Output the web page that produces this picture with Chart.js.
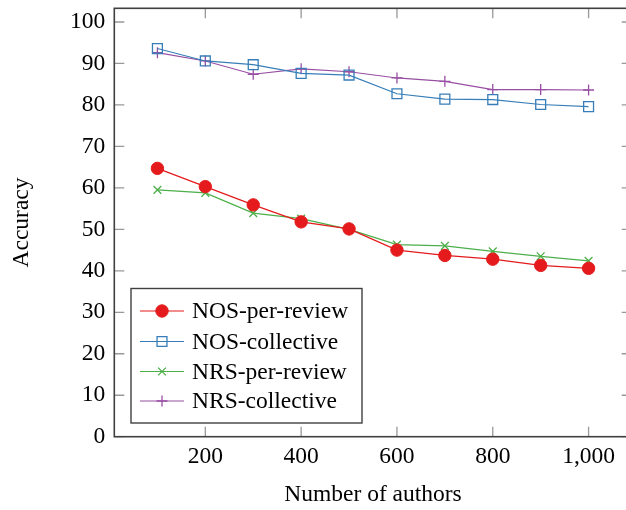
<!DOCTYPE html>
<html>
<head>
<meta charset="utf-8">
<script src="https://cdn.jsdelivr.net/npm/chart.js@4/dist/chart.umd.min.js"></script>
<style>
  html, body { margin: 0; padding: 0; background: #fff; overflow: hidden; }
  #wrap { width: 640px; height: 510px; }
</style>
</head>
<body>
<div id="wrap"><canvas id="chart" width="640" height="510"></canvas></div>
<script>
// data
const authors = [100, 200, 300, 400, 500, 600, 700, 800, 900, 1000];
const nosPerReview = [64.7, 60.3, 55.9, 51.8, 50.1, 45.0, 43.7, 42.8, 41.3, 40.6];
const nosCollective = [93.6, 90.6, 89.7, 87.6, 87.2, 82.7, 81.4, 81.3, 80.1, 79.6];
const nrsPerReview = [59.5, 58.8, 53.9, 52.6, 50.0, 46.3, 46.0, 44.7, 43.5, 42.4];
const nrsCollective = [92.6, 90.6, 87.4, 88.7, 88.0, 86.5, 85.7, 83.7, 83.7, 83.6];
const xTicks = [200, 400, 600, 800, 1000];
const yTicks = [0, 10, 20, 30, 40, 50, 60, 70, 80, 90, 100];

const FONT = 'Liberation Serif';
const FS = 23.5;

function pts(ys) {
    return authors.map((a, i) => ({ x: a, y: ys[i] }));
}

// frame, inward ticks and legend box
const framePlugin = {
    id: 'frame',
    afterDraw(chart) {
        const ctx = chart.ctx;
        const a = chart.chartArea;
        const xs = chart.scales.x, ys = chart.scales.y;
        const tl = 10;
        ctx.save();
        ctx.strokeStyle = '#999';
        ctx.lineWidth = 1.3;
        ctx.beginPath();
        xTicks.forEach(v => {
            const px = xs.getPixelForValue(v);
            ctx.moveTo(px, a.bottom); ctx.lineTo(px, a.bottom - tl);
            ctx.moveTo(px, a.top); ctx.lineTo(px, a.top + tl);
        });
        yTicks.forEach(v => {
            const py = ys.getPixelForValue(v);
            ctx.moveTo(a.left, py); ctx.lineTo(a.left + tl, py);
            ctx.moveTo(a.right, py); ctx.lineTo(a.right - tl, py);
        });
        ctx.stroke();
        ctx.strokeStyle = '#404040';
        ctx.lineWidth = 1.6;
        ctx.strokeRect(a.left, a.top, a.right - a.left, a.bottom - a.top);

        // legend
        const bx = 131, by = 288.5, bw = 231, bh = 134.5;
        ctx.fillStyle = '#fff';
        ctx.fillRect(bx, by, bw, bh);
        ctx.strokeStyle = '#404040';
        ctx.lineWidth = 1.4;
        ctx.strokeRect(bx, by, bw, bh);
        const rowY = [311, 341.5, 371.5, 401];
        chart.data.datasets.forEach((ds, i) => {
            const y = rowY[i];
            ctx.strokeStyle = ds.borderColor;
            ctx.lineWidth = ds.borderWidth;
            ctx.beginPath();
            ctx.moveTo(140, y); ctx.lineTo(184, y);
            ctx.stroke();
            ctx.fillStyle = ds.pointBackgroundColor;
            ctx.strokeStyle = ds.pointBorderColor;
            ctx.lineWidth = ds.pointBorderWidth;
            if (Chart.helpers && Chart.helpers.drawPoint) {
                Chart.helpers.drawPoint(ctx, {
                    pointStyle: ds.pointStyle,
                    radius: ds.pointRadius,
                    borderWidth: ds.pointBorderWidth,
                    rotation: 0
                }, 162, y);
            }
            ctx.fillStyle = '#000';
            ctx.font = FS + 'px "' + FONT + '"';
            ctx.textAlign = 'left';
            ctx.textBaseline = 'middle';
            ctx.fillText(ds.label, 192, y + 1);
        });
        ctx.restore();
    }
};

new Chart(document.getElementById('chart'), {
    type: 'line',
    data: {
        datasets: [{
            label: 'NOS-per-review',
            data: pts(nosPerReview),
            borderColor: '#e41a1c',
            backgroundColor: '#e41a1c',
            pointBackgroundColor: '#e41a1c',
            pointBorderColor: '#e41a1c',
            pointStyle: 'circle',
            pointRadius: 6.2,
            pointBorderWidth: 1,
            borderWidth: 1.2
        }, {
            label: 'NOS-collective',
            data: pts(nosCollective),
            borderColor: '#377eb8',
            backgroundColor: '#377eb8',
            pointBackgroundColor: 'rgba(0,0,0,0)',
            pointBorderColor: '#377eb8',
            pointStyle: 'rect',
            pointRadius: 7,
            pointBorderWidth: 1.3,
            borderWidth: 1.2
        }, {
            label: 'NRS-per-review',
            data: pts(nrsPerReview),
            borderColor: '#4daf4a',
            backgroundColor: '#4daf4a',
            pointBackgroundColor: '#4daf4a',
            pointBorderColor: '#4daf4a',
            pointStyle: 'crossRot',
            pointRadius: 5.5,
            pointBorderWidth: 1.3,
            borderWidth: 1.2
        }, {
            label: 'NRS-collective',
            data: pts(nrsCollective),
            borderColor: '#984ea3',
            backgroundColor: '#984ea3',
            pointBackgroundColor: '#984ea3',
            pointBorderColor: '#984ea3',
            pointStyle: 'cross',
            pointRadius: 5.5,
            pointBorderWidth: 1.3,
            borderWidth: 1.2
        }]
    },
    options: {
        responsive: false,
        animation: false,
        devicePixelRatio: 1,
        layout: { padding: { left: 0, right: 7, top: 6, bottom: 0 } },
        plugins: {
            legend: { display: false },
            tooltip: { enabled: false }
        },
        elements: { line: { tension: 0 } },
        scales: {
            x: {
                type: 'linear',
                min: 10,
                max: 1090,
                border: { display: false },
                grid: { display: false, drawTicks: false },
                afterBuildTicks: scale => { scale.ticks = xTicks.map(v => ({ value: v })); },
                afterFit: scale => {
                    scale.height = 73.3;
                    scale.paddingLeft = 0;
                    scale.paddingRight = 0;
                },
                ticks: {
                    color: '#000',
                    padding: 6,
                    maxRotation: 0,
                    font: { family: FONT, size: FS },
                    callback: v => v.toLocaleString('en-US')
                },
                title: {
                    display: true,
                    text: 'Number of authors',
                    color: '#000',
                    font: { family: FONT, size: FS },
                    padding: { top: 0, bottom: 1 }
                }
            },
            y: {
                type: 'linear',
                min: 0,
                max: 103.3,
                border: { display: false },
                grid: { display: false, drawTicks: false },
                afterBuildTicks: scale => { scale.ticks = yTicks.map(v => ({ value: v })); },
                afterFit: scale => {
                    scale.width = 114.3;
                    scale.paddingTop = 0;
                    scale.paddingBottom = 0;
                },
                ticks: {
                    color: '#000',
                    padding: 9,
                    font: { family: FONT, size: FS }
                },
                title: {
                    display: true,
                    text: 'Accuracy',
                    color: '#000',
                    font: { family: FONT, size: FS },
                    padding: { top: 8, bottom: 0 }
                }
            }
        }
    },
    plugins: [framePlugin]
});
</script>
</body>
</html>
